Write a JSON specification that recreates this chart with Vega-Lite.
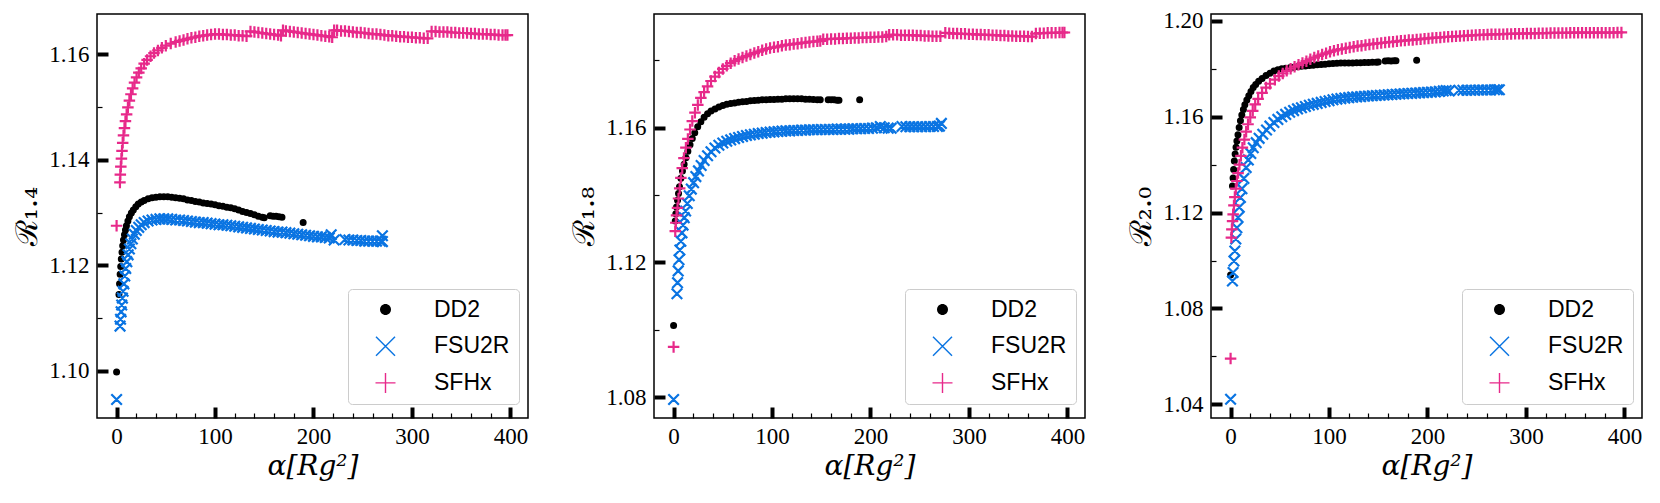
{
  "$schema": "https://vega.github.io/schema/vega-lite/v6.json",
  "padding": {"left": 11, "top": 9, "right": 5, "bottom": 5},
  "spacing": 39,
  "resolve": {"legend": {"color": "independent", "shape": "independent"}},
  "config": {
    "view": {"stroke": "black", "strokeWidth": 1.5},
    "axis": {
      "domain": false, "grid": false,
      "labelFont": "Liberation Serif", "labelFontSize": 23, "labelColor": "black",
      "labelOverlap": false, "labelFlush": false,
      "tickColor": "black",
      "titleFont": "DejaVu Serif", "titleFontWeight": "normal", "titleFontSize": 30, "titleColor": "black"
    },
    "axisX": {"labelPadding": 18, "minExtent": 28, "maxExtent": 28, "titlePadding": 6, "titleFontSize": 28},
    "axisY": {"labelPadding": 19, "minExtent": 48, "maxExtent": 48, "titlePadding": 7},
    "legend": {
      "padding": 9,
      "fillColor": "rgba(255,255,255,0.8)", "strokeColor": "#cccccc", "cornerRadius": 4,
      "symbolSize": 400, "symbolStrokeWidth": 0, "symbolOffset": 17,
      "labelFont": "Liberation Sans", "labelFontSize": 23, "labelColor": "black", "labelOffset": 37,
      "rowPadding": 12.7
    }
  },
  "hconcat": [
    {
      "width": 431, "height": 404,
      "data": {"values": [
        {"eos": "DD2", "alpha": 0, "R": 1.0998},
        {"eos": "DD2", "alpha": 2.4, "R": 1.1145},
        {"eos": "DD2", "alpha": 3, "R": 1.1165},
        {"eos": "DD2", "alpha": 3.6, "R": 1.1183},
        {"eos": "DD2", "alpha": 4.2, "R": 1.1198},
        {"eos": "DD2", "alpha": 4.8, "R": 1.1212},
        {"eos": "DD2", "alpha": 5.5, "R": 1.1225},
        {"eos": "DD2", "alpha": 6.2, "R": 1.1237},
        {"eos": "DD2", "alpha": 7, "R": 1.1248},
        {"eos": "DD2", "alpha": 8, "R": 1.1258},
        {"eos": "DD2", "alpha": 9, "R": 1.1267},
        {"eos": "DD2", "alpha": 10, "R": 1.1275},
        {"eos": "DD2", "alpha": 11.5, "R": 1.1284},
        {"eos": "DD2", "alpha": 13, "R": 1.1292},
        {"eos": "DD2", "alpha": 15, "R": 1.1299},
        {"eos": "DD2", "alpha": 17, "R": 1.1305},
        {"eos": "DD2", "alpha": 19.5, "R": 1.1311},
        {"eos": "DD2", "alpha": 22, "R": 1.1316},
        {"eos": "DD2", "alpha": 25, "R": 1.132},
        {"eos": "DD2", "alpha": 28, "R": 1.1323},
        {"eos": "DD2", "alpha": 32, "R": 1.1326},
        {"eos": "DD2", "alpha": 36, "R": 1.1328},
        {"eos": "DD2", "alpha": 40, "R": 1.1329},
        {"eos": "DD2", "alpha": 44, "R": 1.133},
        {"eos": "DD2", "alpha": 48, "R": 1.133},
        {"eos": "DD2", "alpha": 52, "R": 1.133},
        {"eos": "DD2", "alpha": 56, "R": 1.1329},
        {"eos": "DD2", "alpha": 60, "R": 1.1328},
        {"eos": "DD2", "alpha": 64, "R": 1.1327},
        {"eos": "DD2", "alpha": 68, "R": 1.1326},
        {"eos": "DD2", "alpha": 72, "R": 1.1324},
        {"eos": "DD2", "alpha": 76, "R": 1.1323},
        {"eos": "DD2", "alpha": 80, "R": 1.1321},
        {"eos": "DD2", "alpha": 84, "R": 1.132},
        {"eos": "DD2", "alpha": 88, "R": 1.1318},
        {"eos": "DD2", "alpha": 92, "R": 1.1317},
        {"eos": "DD2", "alpha": 96, "R": 1.1316},
        {"eos": "DD2", "alpha": 100, "R": 1.1315},
        {"eos": "DD2", "alpha": 104, "R": 1.1313},
        {"eos": "DD2", "alpha": 108, "R": 1.1312},
        {"eos": "DD2", "alpha": 112, "R": 1.131},
        {"eos": "DD2", "alpha": 116, "R": 1.1309},
        {"eos": "DD2", "alpha": 120, "R": 1.1307},
        {"eos": "DD2", "alpha": 124, "R": 1.1305},
        {"eos": "DD2", "alpha": 128, "R": 1.1302},
        {"eos": "DD2", "alpha": 132, "R": 1.13},
        {"eos": "DD2", "alpha": 136, "R": 1.1298},
        {"eos": "DD2", "alpha": 140, "R": 1.1296},
        {"eos": "DD2", "alpha": 144, "R": 1.1293},
        {"eos": "DD2", "alpha": 148, "R": 1.1291},
        {"eos": "DD2", "alpha": 150, "R": 1.129},
        {"eos": "DD2", "alpha": 156, "R": 1.1294},
        {"eos": "DD2", "alpha": 159, "R": 1.1293},
        {"eos": "DD2", "alpha": 162, "R": 1.1293},
        {"eos": "DD2", "alpha": 165, "R": 1.1292},
        {"eos": "DD2", "alpha": 168, "R": 1.1291},
        {"eos": "DD2", "alpha": 189.5, "R": 1.1281},
        {"eos": "FSU2R", "alpha": 0, "R": 1.0946},
        {"eos": "FSU2R", "alpha": 3.5, "R": 1.1085},
        {"eos": "FSU2R", "alpha": 4, "R": 1.1098},
        {"eos": "FSU2R", "alpha": 4.6, "R": 1.1112},
        {"eos": "FSU2R", "alpha": 5.2, "R": 1.1125},
        {"eos": "FSU2R", "alpha": 5.9, "R": 1.1138},
        {"eos": "FSU2R", "alpha": 6.6, "R": 1.1151},
        {"eos": "FSU2R", "alpha": 7.4, "R": 1.1165},
        {"eos": "FSU2R", "alpha": 8.3, "R": 1.118},
        {"eos": "FSU2R", "alpha": 9.3, "R": 1.1194},
        {"eos": "FSU2R", "alpha": 10.4, "R": 1.1207},
        {"eos": "FSU2R", "alpha": 11.7, "R": 1.122},
        {"eos": "FSU2R", "alpha": 13, "R": 1.1231},
        {"eos": "FSU2R", "alpha": 14.5, "R": 1.1241},
        {"eos": "FSU2R", "alpha": 16, "R": 1.125},
        {"eos": "FSU2R", "alpha": 18, "R": 1.1259},
        {"eos": "FSU2R", "alpha": 20, "R": 1.1266},
        {"eos": "FSU2R", "alpha": 22.5, "R": 1.1272},
        {"eos": "FSU2R", "alpha": 25, "R": 1.1277},
        {"eos": "FSU2R", "alpha": 28, "R": 1.1281},
        {"eos": "FSU2R", "alpha": 32, "R": 1.1284},
        {"eos": "FSU2R", "alpha": 36, "R": 1.1286},
        {"eos": "FSU2R", "alpha": 40, "R": 1.1287},
        {"eos": "FSU2R", "alpha": 44, "R": 1.1288},
        {"eos": "FSU2R", "alpha": 48, "R": 1.1288},
        {"eos": "FSU2R", "alpha": 52, "R": 1.1288},
        {"eos": "FSU2R", "alpha": 56, "R": 1.1287},
        {"eos": "FSU2R", "alpha": 60, "R": 1.1286},
        {"eos": "FSU2R", "alpha": 64, "R": 1.1286},
        {"eos": "FSU2R", "alpha": 68, "R": 1.1285},
        {"eos": "FSU2R", "alpha": 72, "R": 1.1284},
        {"eos": "FSU2R", "alpha": 76, "R": 1.1283},
        {"eos": "FSU2R", "alpha": 80, "R": 1.1282},
        {"eos": "FSU2R", "alpha": 84, "R": 1.1281},
        {"eos": "FSU2R", "alpha": 88, "R": 1.1281},
        {"eos": "FSU2R", "alpha": 92, "R": 1.128},
        {"eos": "FSU2R", "alpha": 96, "R": 1.1279},
        {"eos": "FSU2R", "alpha": 100, "R": 1.1278},
        {"eos": "FSU2R", "alpha": 104, "R": 1.1277},
        {"eos": "FSU2R", "alpha": 108, "R": 1.1277},
        {"eos": "FSU2R", "alpha": 112, "R": 1.1276},
        {"eos": "FSU2R", "alpha": 116, "R": 1.1275},
        {"eos": "FSU2R", "alpha": 120, "R": 1.1274},
        {"eos": "FSU2R", "alpha": 124, "R": 1.1273},
        {"eos": "FSU2R", "alpha": 128, "R": 1.1272},
        {"eos": "FSU2R", "alpha": 132, "R": 1.1271},
        {"eos": "FSU2R", "alpha": 136, "R": 1.127},
        {"eos": "FSU2R", "alpha": 140, "R": 1.1269},
        {"eos": "FSU2R", "alpha": 144, "R": 1.1268},
        {"eos": "FSU2R", "alpha": 148, "R": 1.1267},
        {"eos": "FSU2R", "alpha": 152, "R": 1.1266},
        {"eos": "FSU2R", "alpha": 156, "R": 1.1265},
        {"eos": "FSU2R", "alpha": 160, "R": 1.1264},
        {"eos": "FSU2R", "alpha": 164, "R": 1.1263},
        {"eos": "FSU2R", "alpha": 168, "R": 1.1263},
        {"eos": "FSU2R", "alpha": 172, "R": 1.1262},
        {"eos": "FSU2R", "alpha": 176, "R": 1.1261},
        {"eos": "FSU2R", "alpha": 180, "R": 1.126},
        {"eos": "FSU2R", "alpha": 184, "R": 1.1259},
        {"eos": "FSU2R", "alpha": 188, "R": 1.1258},
        {"eos": "FSU2R", "alpha": 192, "R": 1.1257},
        {"eos": "FSU2R", "alpha": 196, "R": 1.1256},
        {"eos": "FSU2R", "alpha": 200, "R": 1.1255},
        {"eos": "FSU2R", "alpha": 204, "R": 1.1254},
        {"eos": "FSU2R", "alpha": 208, "R": 1.1254},
        {"eos": "FSU2R", "alpha": 212, "R": 1.1253},
        {"eos": "FSU2R", "alpha": 216, "R": 1.1252},
        {"eos": "FSU2R", "alpha": 218, "R": 1.1258},
        {"eos": "FSU2R", "alpha": 221, "R": 1.1248},
        {"eos": "FSU2R", "alpha": 232, "R": 1.1249},
        {"eos": "FSU2R", "alpha": 236, "R": 1.1248},
        {"eos": "FSU2R", "alpha": 240, "R": 1.1248},
        {"eos": "FSU2R", "alpha": 244, "R": 1.1247},
        {"eos": "FSU2R", "alpha": 248, "R": 1.1247},
        {"eos": "FSU2R", "alpha": 252, "R": 1.1246},
        {"eos": "FSU2R", "alpha": 256, "R": 1.1246},
        {"eos": "FSU2R", "alpha": 260, "R": 1.1246},
        {"eos": "FSU2R", "alpha": 264, "R": 1.1246},
        {"eos": "FSU2R", "alpha": 268, "R": 1.1246},
        {"eos": "FSU2R", "alpha": 270, "R": 1.1256},
        {"eos": "FSU2R", "alpha": 270, "R": 1.1245},
        {"eos": "SFHx", "alpha": 0, "R": 1.1275},
        {"eos": "SFHx", "alpha": 3.4, "R": 1.1357},
        {"eos": "SFHx", "alpha": 3.8, "R": 1.1372},
        {"eos": "SFHx", "alpha": 4.3, "R": 1.1387},
        {"eos": "SFHx", "alpha": 4.9, "R": 1.1402},
        {"eos": "SFHx", "alpha": 5.5, "R": 1.1417},
        {"eos": "SFHx", "alpha": 6.2, "R": 1.1432},
        {"eos": "SFHx", "alpha": 7, "R": 1.1446},
        {"eos": "SFHx", "alpha": 8, "R": 1.146},
        {"eos": "SFHx", "alpha": 9, "R": 1.1473},
        {"eos": "SFHx", "alpha": 10.2, "R": 1.1486},
        {"eos": "SFHx", "alpha": 11.5, "R": 1.1499},
        {"eos": "SFHx", "alpha": 13, "R": 1.1512},
        {"eos": "SFHx", "alpha": 14.6, "R": 1.1524},
        {"eos": "SFHx", "alpha": 16.3, "R": 1.1535},
        {"eos": "SFHx", "alpha": 18.2, "R": 1.1546},
        {"eos": "SFHx", "alpha": 20.3, "R": 1.1556},
        {"eos": "SFHx", "alpha": 22.6, "R": 1.1565},
        {"eos": "SFHx", "alpha": 25, "R": 1.1573},
        {"eos": "SFHx", "alpha": 28, "R": 1.1582},
        {"eos": "SFHx", "alpha": 31, "R": 1.1589},
        {"eos": "SFHx", "alpha": 34.5, "R": 1.1596},
        {"eos": "SFHx", "alpha": 38, "R": 1.1602},
        {"eos": "SFHx", "alpha": 42, "R": 1.1607},
        {"eos": "SFHx", "alpha": 46, "R": 1.1612},
        {"eos": "SFHx", "alpha": 50, "R": 1.1616},
        {"eos": "SFHx", "alpha": 55, "R": 1.162},
        {"eos": "SFHx", "alpha": 60, "R": 1.1623},
        {"eos": "SFHx", "alpha": 64, "R": 1.1625},
        {"eos": "SFHx", "alpha": 68, "R": 1.1627},
        {"eos": "SFHx", "alpha": 72, "R": 1.1629},
        {"eos": "SFHx", "alpha": 76, "R": 1.1631},
        {"eos": "SFHx", "alpha": 80, "R": 1.1632},
        {"eos": "SFHx", "alpha": 84, "R": 1.1634},
        {"eos": "SFHx", "alpha": 88, "R": 1.1635},
        {"eos": "SFHx", "alpha": 92, "R": 1.1636},
        {"eos": "SFHx", "alpha": 96, "R": 1.1637},
        {"eos": "SFHx", "alpha": 100, "R": 1.1638},
        {"eos": "SFHx", "alpha": 104, "R": 1.1638},
        {"eos": "SFHx", "alpha": 108, "R": 1.1637},
        {"eos": "SFHx", "alpha": 112, "R": 1.1637},
        {"eos": "SFHx", "alpha": 116, "R": 1.1636},
        {"eos": "SFHx", "alpha": 120, "R": 1.1636},
        {"eos": "SFHx", "alpha": 124, "R": 1.1635},
        {"eos": "SFHx", "alpha": 128, "R": 1.1635},
        {"eos": "SFHx", "alpha": 132, "R": 1.1634},
        {"eos": "SFHx", "alpha": 136, "R": 1.1643},
        {"eos": "SFHx", "alpha": 140, "R": 1.1642},
        {"eos": "SFHx", "alpha": 144, "R": 1.1641},
        {"eos": "SFHx", "alpha": 148, "R": 1.164},
        {"eos": "SFHx", "alpha": 152, "R": 1.1639},
        {"eos": "SFHx", "alpha": 156, "R": 1.1638},
        {"eos": "SFHx", "alpha": 160, "R": 1.1637},
        {"eos": "SFHx", "alpha": 164, "R": 1.1636},
        {"eos": "SFHx", "alpha": 167, "R": 1.1635},
        {"eos": "SFHx", "alpha": 169, "R": 1.1645},
        {"eos": "SFHx", "alpha": 172, "R": 1.1644},
        {"eos": "SFHx", "alpha": 176, "R": 1.1643},
        {"eos": "SFHx", "alpha": 180, "R": 1.1642},
        {"eos": "SFHx", "alpha": 184, "R": 1.1641},
        {"eos": "SFHx", "alpha": 188, "R": 1.164},
        {"eos": "SFHx", "alpha": 192, "R": 1.1639},
        {"eos": "SFHx", "alpha": 196, "R": 1.1638},
        {"eos": "SFHx", "alpha": 200, "R": 1.1637},
        {"eos": "SFHx", "alpha": 204, "R": 1.1636},
        {"eos": "SFHx", "alpha": 208, "R": 1.1635},
        {"eos": "SFHx", "alpha": 212, "R": 1.1634},
        {"eos": "SFHx", "alpha": 216, "R": 1.1633},
        {"eos": "SFHx", "alpha": 219, "R": 1.1632},
        {"eos": "SFHx", "alpha": 221, "R": 1.1645},
        {"eos": "SFHx", "alpha": 224, "R": 1.1645},
        {"eos": "SFHx", "alpha": 228, "R": 1.1644},
        {"eos": "SFHx", "alpha": 232, "R": 1.1644},
        {"eos": "SFHx", "alpha": 236, "R": 1.1643},
        {"eos": "SFHx", "alpha": 240, "R": 1.1642},
        {"eos": "SFHx", "alpha": 244, "R": 1.1641},
        {"eos": "SFHx", "alpha": 248, "R": 1.1641},
        {"eos": "SFHx", "alpha": 252, "R": 1.164},
        {"eos": "SFHx", "alpha": 256, "R": 1.1639},
        {"eos": "SFHx", "alpha": 260, "R": 1.1638},
        {"eos": "SFHx", "alpha": 264, "R": 1.1638},
        {"eos": "SFHx", "alpha": 268, "R": 1.1637},
        {"eos": "SFHx", "alpha": 272, "R": 1.1636},
        {"eos": "SFHx", "alpha": 276, "R": 1.1635},
        {"eos": "SFHx", "alpha": 280, "R": 1.1635},
        {"eos": "SFHx", "alpha": 284, "R": 1.1634},
        {"eos": "SFHx", "alpha": 288, "R": 1.1633},
        {"eos": "SFHx", "alpha": 292, "R": 1.1633},
        {"eos": "SFHx", "alpha": 296, "R": 1.1632},
        {"eos": "SFHx", "alpha": 300, "R": 1.1632},
        {"eos": "SFHx", "alpha": 304, "R": 1.1631},
        {"eos": "SFHx", "alpha": 308, "R": 1.1631},
        {"eos": "SFHx", "alpha": 312, "R": 1.163},
        {"eos": "SFHx", "alpha": 316, "R": 1.163},
        {"eos": "SFHx", "alpha": 320, "R": 1.1643},
        {"eos": "SFHx", "alpha": 324, "R": 1.1643},
        {"eos": "SFHx", "alpha": 328, "R": 1.1642},
        {"eos": "SFHx", "alpha": 332, "R": 1.1642},
        {"eos": "SFHx", "alpha": 336, "R": 1.1642},
        {"eos": "SFHx", "alpha": 340, "R": 1.1641},
        {"eos": "SFHx", "alpha": 344, "R": 1.1641},
        {"eos": "SFHx", "alpha": 348, "R": 1.164},
        {"eos": "SFHx", "alpha": 352, "R": 1.164},
        {"eos": "SFHx", "alpha": 356, "R": 1.164},
        {"eos": "SFHx", "alpha": 360, "R": 1.1639},
        {"eos": "SFHx", "alpha": 364, "R": 1.1639},
        {"eos": "SFHx", "alpha": 368, "R": 1.1638},
        {"eos": "SFHx", "alpha": 372, "R": 1.1638},
        {"eos": "SFHx", "alpha": 376, "R": 1.1638},
        {"eos": "SFHx", "alpha": 380, "R": 1.1637},
        {"eos": "SFHx", "alpha": 384, "R": 1.1637},
        {"eos": "SFHx", "alpha": 388, "R": 1.1636},
        {"eos": "SFHx", "alpha": 392, "R": 1.1636},
        {"eos": "SFHx", "alpha": 395, "R": 1.1636},
        {"eos": "SFHx", "alpha": 397, "R": 1.1636}
      ]},
      "mark": {"type": "point", "filled": true, "opacity": 1, "size": 100, "strokeWidth": 1.5},
      "encoding": {
        "x": {
          "field": "alpha", "type": "quantitative",
          "scale": {"domain": [-19.9, 417.9], "nice": false, "zero": false},
          "axis": {
            "title": "α[Rg²]", "titleFontStyle": "italic", "format": "d",
            "values": [0, 20, 40, 60, 80, 100, 120, 140, 160, 180, 200, 220, 240, 260, 280, 300, 320, 340, 360, 380, 400],
            "labelExpr": "datum.value % 100 === 0 ? datum.label : ''",
            "tickSize": {"condition": {"test": "datum.value % 100 === 0", "value": -11}, "value": -5},
            "tickWidth": {"condition": {"test": "datum.value % 100 === 0", "value": 4}, "value": 1.2}
          }
        },
        "y": {
          "field": "R", "type": "quantitative",
          "scale": {"domain": [1.0911, 1.1676], "nice": false, "zero": false},
          "axis": {
            "title": "ℛ₁.₄", "format": ".2f",
            "values": [1.10, 1.11, 1.12, 1.13, 1.14, 1.15, 1.16],
            "labelExpr": "round(datum.value * 100) % 2 === 0 ? datum.label : ''",
            "tickSize": {"condition": {"test": "round(datum.value * 100) % 2 === 0", "value": -11}, "value": -5},
            "tickWidth": {"condition": {"test": "round(datum.value * 100) % 2 === 0", "value": 4}, "value": 1.2}
          }
        },
        "color": {
          "field": "eos", "type": "nominal",
          "scale": {"domain": ["DD2", "FSU2R", "SFHx"], "range": ["#000000", "#0a74e2", "#e7298a"]},
          "legend": {"title": null, "orient": "none", "legendX": 251, "legendY": 275}
        },
        "stroke": {
          "field": "eos", "type": "nominal",
          "scale": {"domain": ["DD2", "FSU2R", "SFHx"], "range": ["#000000", "#0a74e2", "#e7298a"]},
          "legend": null
        },
        "shape": {
          "field": "eos", "type": "nominal",
          "scale": {"domain": ["DD2", "FSU2R", "SFHx"], "range": ["M0.55,0A0.55,0.55,0,1,1,-0.55,0A0.55,0.55,0,1,1,0.55,0Z", "M-1,-0.9L-0.9,-1L1,0.9L0.9,1Z M-1,0.9L0.9,-1L1,-0.9L-0.9,1Z", "M-1,-0.07L1,-0.07L1,0.07L-1,0.07Z M-0.07,-1L0.07,-1L0.07,1L-0.07,1Z"]},
          "legend": {"title": null, "orient": "none", "legendX": 251, "legendY": 275}
        }
      }
    },
    {
      "width": 431, "height": 404,
      "data": {"values": [
        {"eos": "DD2", "alpha": 0, "R": 1.1013},
        {"eos": "DD2", "alpha": 1.7, "R": 1.1323},
        {"eos": "DD2", "alpha": 2.3, "R": 1.1345},
        {"eos": "DD2", "alpha": 3, "R": 1.1365},
        {"eos": "DD2", "alpha": 4, "R": 1.1385},
        {"eos": "DD2", "alpha": 5, "R": 1.1405},
        {"eos": "DD2", "alpha": 6, "R": 1.1425},
        {"eos": "DD2", "alpha": 7.4, "R": 1.145},
        {"eos": "DD2", "alpha": 9, "R": 1.1472},
        {"eos": "DD2", "alpha": 10.7, "R": 1.1492},
        {"eos": "DD2", "alpha": 12.5, "R": 1.1511},
        {"eos": "DD2", "alpha": 14.5, "R": 1.153},
        {"eos": "DD2", "alpha": 16.7, "R": 1.155},
        {"eos": "DD2", "alpha": 19, "R": 1.1568},
        {"eos": "DD2", "alpha": 21.5, "R": 1.1585},
        {"eos": "DD2", "alpha": 24.5, "R": 1.1603},
        {"eos": "DD2", "alpha": 27.7, "R": 1.1618},
        {"eos": "DD2", "alpha": 31, "R": 1.1631},
        {"eos": "DD2", "alpha": 34.5, "R": 1.1642},
        {"eos": "DD2", "alpha": 38, "R": 1.165},
        {"eos": "DD2", "alpha": 42, "R": 1.1656},
        {"eos": "DD2", "alpha": 46, "R": 1.1662},
        {"eos": "DD2", "alpha": 50, "R": 1.1666},
        {"eos": "DD2", "alpha": 54, "R": 1.167},
        {"eos": "DD2", "alpha": 58, "R": 1.1672},
        {"eos": "DD2", "alpha": 62, "R": 1.1674},
        {"eos": "DD2", "alpha": 66, "R": 1.1676},
        {"eos": "DD2", "alpha": 70, "R": 1.1677},
        {"eos": "DD2", "alpha": 74, "R": 1.1678},
        {"eos": "DD2", "alpha": 78, "R": 1.168},
        {"eos": "DD2", "alpha": 82, "R": 1.1681},
        {"eos": "DD2", "alpha": 86, "R": 1.1682},
        {"eos": "DD2", "alpha": 90, "R": 1.1683},
        {"eos": "DD2", "alpha": 94, "R": 1.1683},
        {"eos": "DD2", "alpha": 98, "R": 1.1684},
        {"eos": "DD2", "alpha": 102, "R": 1.1684},
        {"eos": "DD2", "alpha": 106, "R": 1.1685},
        {"eos": "DD2", "alpha": 110, "R": 1.1685},
        {"eos": "DD2", "alpha": 114, "R": 1.1686},
        {"eos": "DD2", "alpha": 118, "R": 1.1686},
        {"eos": "DD2", "alpha": 122, "R": 1.1686},
        {"eos": "DD2", "alpha": 126, "R": 1.1686},
        {"eos": "DD2", "alpha": 130, "R": 1.1686},
        {"eos": "DD2", "alpha": 134, "R": 1.1685},
        {"eos": "DD2", "alpha": 138, "R": 1.1685},
        {"eos": "DD2", "alpha": 142, "R": 1.1684},
        {"eos": "DD2", "alpha": 146, "R": 1.1683},
        {"eos": "DD2", "alpha": 149, "R": 1.1683},
        {"eos": "DD2", "alpha": 157, "R": 1.1683},
        {"eos": "DD2", "alpha": 160, "R": 1.1683},
        {"eos": "DD2", "alpha": 163, "R": 1.1683},
        {"eos": "DD2", "alpha": 166, "R": 1.1682},
        {"eos": "DD2", "alpha": 168, "R": 1.1682},
        {"eos": "DD2", "alpha": 189, "R": 1.1683},
        {"eos": "FSU2R", "alpha": 0, "R": 1.0793},
        {"eos": "FSU2R", "alpha": 3.4, "R": 1.1107},
        {"eos": "FSU2R", "alpha": 4, "R": 1.114},
        {"eos": "FSU2R", "alpha": 4.7, "R": 1.1175},
        {"eos": "FSU2R", "alpha": 5.5, "R": 1.1208},
        {"eos": "FSU2R", "alpha": 6.4, "R": 1.1237},
        {"eos": "FSU2R", "alpha": 7.4, "R": 1.1263},
        {"eos": "FSU2R", "alpha": 8.5, "R": 1.1288},
        {"eos": "FSU2R", "alpha": 9.6, "R": 1.1311},
        {"eos": "FSU2R", "alpha": 10.8, "R": 1.1333},
        {"eos": "FSU2R", "alpha": 12.2, "R": 1.1353},
        {"eos": "FSU2R", "alpha": 13.9, "R": 1.1375},
        {"eos": "FSU2R", "alpha": 15.9, "R": 1.1398},
        {"eos": "FSU2R", "alpha": 18, "R": 1.1418},
        {"eos": "FSU2R", "alpha": 20.3, "R": 1.1437},
        {"eos": "FSU2R", "alpha": 22.6, "R": 1.1455},
        {"eos": "FSU2R", "alpha": 25.3, "R": 1.1472},
        {"eos": "FSU2R", "alpha": 28, "R": 1.1488},
        {"eos": "FSU2R", "alpha": 31, "R": 1.1503},
        {"eos": "FSU2R", "alpha": 34.5, "R": 1.1517},
        {"eos": "FSU2R", "alpha": 38, "R": 1.1529},
        {"eos": "FSU2R", "alpha": 42, "R": 1.154},
        {"eos": "FSU2R", "alpha": 46, "R": 1.1548},
        {"eos": "FSU2R", "alpha": 50, "R": 1.1555},
        {"eos": "FSU2R", "alpha": 54, "R": 1.156},
        {"eos": "FSU2R", "alpha": 58, "R": 1.1564},
        {"eos": "FSU2R", "alpha": 62, "R": 1.1568},
        {"eos": "FSU2R", "alpha": 66, "R": 1.1571},
        {"eos": "FSU2R", "alpha": 70, "R": 1.1574},
        {"eos": "FSU2R", "alpha": 74, "R": 1.1577},
        {"eos": "FSU2R", "alpha": 78, "R": 1.1579},
        {"eos": "FSU2R", "alpha": 82, "R": 1.1581},
        {"eos": "FSU2R", "alpha": 86, "R": 1.1583},
        {"eos": "FSU2R", "alpha": 90, "R": 1.1584},
        {"eos": "FSU2R", "alpha": 94, "R": 1.1586},
        {"eos": "FSU2R", "alpha": 98, "R": 1.1587},
        {"eos": "FSU2R", "alpha": 102, "R": 1.1588},
        {"eos": "FSU2R", "alpha": 106, "R": 1.1589},
        {"eos": "FSU2R", "alpha": 110, "R": 1.159},
        {"eos": "FSU2R", "alpha": 114, "R": 1.1591},
        {"eos": "FSU2R", "alpha": 118, "R": 1.1591},
        {"eos": "FSU2R", "alpha": 122, "R": 1.1592},
        {"eos": "FSU2R", "alpha": 126, "R": 1.1592},
        {"eos": "FSU2R", "alpha": 130, "R": 1.1593},
        {"eos": "FSU2R", "alpha": 134, "R": 1.1593},
        {"eos": "FSU2R", "alpha": 138, "R": 1.1594},
        {"eos": "FSU2R", "alpha": 142, "R": 1.1594},
        {"eos": "FSU2R", "alpha": 146, "R": 1.1594},
        {"eos": "FSU2R", "alpha": 150, "R": 1.1595},
        {"eos": "FSU2R", "alpha": 154, "R": 1.1595},
        {"eos": "FSU2R", "alpha": 158, "R": 1.1595},
        {"eos": "FSU2R", "alpha": 162, "R": 1.1595},
        {"eos": "FSU2R", "alpha": 166, "R": 1.1596},
        {"eos": "FSU2R", "alpha": 170, "R": 1.1596},
        {"eos": "FSU2R", "alpha": 174, "R": 1.1596},
        {"eos": "FSU2R", "alpha": 178, "R": 1.1596},
        {"eos": "FSU2R", "alpha": 182, "R": 1.1597},
        {"eos": "FSU2R", "alpha": 186, "R": 1.1597},
        {"eos": "FSU2R", "alpha": 190, "R": 1.1597},
        {"eos": "FSU2R", "alpha": 194, "R": 1.1598},
        {"eos": "FSU2R", "alpha": 198, "R": 1.1598},
        {"eos": "FSU2R", "alpha": 202, "R": 1.1599},
        {"eos": "FSU2R", "alpha": 206, "R": 1.16},
        {"eos": "FSU2R", "alpha": 210, "R": 1.1604},
        {"eos": "FSU2R", "alpha": 214, "R": 1.16},
        {"eos": "FSU2R", "alpha": 218, "R": 1.1599},
        {"eos": "FSU2R", "alpha": 221, "R": 1.1599},
        {"eos": "FSU2R", "alpha": 232, "R": 1.1604},
        {"eos": "FSU2R", "alpha": 236, "R": 1.1603},
        {"eos": "FSU2R", "alpha": 240, "R": 1.1603},
        {"eos": "FSU2R", "alpha": 244, "R": 1.1603},
        {"eos": "FSU2R", "alpha": 248, "R": 1.1603},
        {"eos": "FSU2R", "alpha": 252, "R": 1.1603},
        {"eos": "FSU2R", "alpha": 256, "R": 1.1603},
        {"eos": "FSU2R", "alpha": 260, "R": 1.1604},
        {"eos": "FSU2R", "alpha": 264, "R": 1.1604},
        {"eos": "FSU2R", "alpha": 268, "R": 1.1604},
        {"eos": "FSU2R", "alpha": 270, "R": 1.1605},
        {"eos": "FSU2R", "alpha": 272, "R": 1.1613},
        {"eos": "SFHx", "alpha": 0, "R": 1.0949},
        {"eos": "SFHx", "alpha": 1.7, "R": 1.1293},
        {"eos": "SFHx", "alpha": 2.3, "R": 1.1318},
        {"eos": "SFHx", "alpha": 3, "R": 1.134},
        {"eos": "SFHx", "alpha": 4, "R": 1.1362},
        {"eos": "SFHx", "alpha": 5, "R": 1.139},
        {"eos": "SFHx", "alpha": 6.2, "R": 1.142},
        {"eos": "SFHx", "alpha": 7.4, "R": 1.1451},
        {"eos": "SFHx", "alpha": 8.8, "R": 1.148},
        {"eos": "SFHx", "alpha": 10.5, "R": 1.151},
        {"eos": "SFHx", "alpha": 12.5, "R": 1.1541},
        {"eos": "SFHx", "alpha": 14.5, "R": 1.1567},
        {"eos": "SFHx", "alpha": 16.7, "R": 1.1595},
        {"eos": "SFHx", "alpha": 19, "R": 1.162},
        {"eos": "SFHx", "alpha": 21.7, "R": 1.1645},
        {"eos": "SFHx", "alpha": 24.6, "R": 1.1668},
        {"eos": "SFHx", "alpha": 27.7, "R": 1.1689},
        {"eos": "SFHx", "alpha": 31, "R": 1.1706},
        {"eos": "SFHx", "alpha": 34.5, "R": 1.1723},
        {"eos": "SFHx", "alpha": 38, "R": 1.1739},
        {"eos": "SFHx", "alpha": 42, "R": 1.1752},
        {"eos": "SFHx", "alpha": 46, "R": 1.1764},
        {"eos": "SFHx", "alpha": 50, "R": 1.1775},
        {"eos": "SFHx", "alpha": 54, "R": 1.1784},
        {"eos": "SFHx", "alpha": 58, "R": 1.1792},
        {"eos": "SFHx", "alpha": 62, "R": 1.1799},
        {"eos": "SFHx", "alpha": 66, "R": 1.1804},
        {"eos": "SFHx", "alpha": 70, "R": 1.1809},
        {"eos": "SFHx", "alpha": 74, "R": 1.1813},
        {"eos": "SFHx", "alpha": 78, "R": 1.1818},
        {"eos": "SFHx", "alpha": 82, "R": 1.1822},
        {"eos": "SFHx", "alpha": 86, "R": 1.1826},
        {"eos": "SFHx", "alpha": 90, "R": 1.183},
        {"eos": "SFHx", "alpha": 94, "R": 1.1834},
        {"eos": "SFHx", "alpha": 98, "R": 1.1837},
        {"eos": "SFHx", "alpha": 102, "R": 1.1839},
        {"eos": "SFHx", "alpha": 106, "R": 1.1841},
        {"eos": "SFHx", "alpha": 110, "R": 1.1844},
        {"eos": "SFHx", "alpha": 114, "R": 1.1846},
        {"eos": "SFHx", "alpha": 118, "R": 1.1847},
        {"eos": "SFHx", "alpha": 122, "R": 1.1849},
        {"eos": "SFHx", "alpha": 126, "R": 1.185},
        {"eos": "SFHx", "alpha": 130, "R": 1.1852},
        {"eos": "SFHx", "alpha": 134, "R": 1.1853},
        {"eos": "SFHx", "alpha": 138, "R": 1.1855},
        {"eos": "SFHx", "alpha": 142, "R": 1.1856},
        {"eos": "SFHx", "alpha": 146, "R": 1.1857},
        {"eos": "SFHx", "alpha": 149, "R": 1.1858},
        {"eos": "SFHx", "alpha": 152, "R": 1.1863},
        {"eos": "SFHx", "alpha": 156, "R": 1.1863},
        {"eos": "SFHx", "alpha": 160, "R": 1.1864},
        {"eos": "SFHx", "alpha": 164, "R": 1.1864},
        {"eos": "SFHx", "alpha": 168, "R": 1.1865},
        {"eos": "SFHx", "alpha": 172, "R": 1.1865},
        {"eos": "SFHx", "alpha": 176, "R": 1.1866},
        {"eos": "SFHx", "alpha": 180, "R": 1.1866},
        {"eos": "SFHx", "alpha": 184, "R": 1.1867},
        {"eos": "SFHx", "alpha": 188, "R": 1.1867},
        {"eos": "SFHx", "alpha": 192, "R": 1.1868},
        {"eos": "SFHx", "alpha": 196, "R": 1.1868},
        {"eos": "SFHx", "alpha": 200, "R": 1.1869},
        {"eos": "SFHx", "alpha": 204, "R": 1.1869},
        {"eos": "SFHx", "alpha": 208, "R": 1.187},
        {"eos": "SFHx", "alpha": 212, "R": 1.187},
        {"eos": "SFHx", "alpha": 216, "R": 1.1871},
        {"eos": "SFHx", "alpha": 219, "R": 1.1876},
        {"eos": "SFHx", "alpha": 223, "R": 1.1876},
        {"eos": "SFHx", "alpha": 227, "R": 1.1876},
        {"eos": "SFHx", "alpha": 231, "R": 1.1875},
        {"eos": "SFHx", "alpha": 235, "R": 1.1875},
        {"eos": "SFHx", "alpha": 239, "R": 1.1875},
        {"eos": "SFHx", "alpha": 243, "R": 1.1875},
        {"eos": "SFHx", "alpha": 247, "R": 1.1874},
        {"eos": "SFHx", "alpha": 251, "R": 1.1874},
        {"eos": "SFHx", "alpha": 255, "R": 1.1873},
        {"eos": "SFHx", "alpha": 259, "R": 1.1873},
        {"eos": "SFHx", "alpha": 263, "R": 1.1872},
        {"eos": "SFHx", "alpha": 267, "R": 1.1872},
        {"eos": "SFHx", "alpha": 271, "R": 1.1872},
        {"eos": "SFHx", "alpha": 276, "R": 1.1882},
        {"eos": "SFHx", "alpha": 280, "R": 1.1881},
        {"eos": "SFHx", "alpha": 284, "R": 1.188},
        {"eos": "SFHx", "alpha": 288, "R": 1.188},
        {"eos": "SFHx", "alpha": 292, "R": 1.1879},
        {"eos": "SFHx", "alpha": 296, "R": 1.1879},
        {"eos": "SFHx", "alpha": 300, "R": 1.1878},
        {"eos": "SFHx", "alpha": 304, "R": 1.1878},
        {"eos": "SFHx", "alpha": 308, "R": 1.1877},
        {"eos": "SFHx", "alpha": 312, "R": 1.1877},
        {"eos": "SFHx", "alpha": 316, "R": 1.1876},
        {"eos": "SFHx", "alpha": 320, "R": 1.1876},
        {"eos": "SFHx", "alpha": 324, "R": 1.1875},
        {"eos": "SFHx", "alpha": 328, "R": 1.1875},
        {"eos": "SFHx", "alpha": 332, "R": 1.1874},
        {"eos": "SFHx", "alpha": 336, "R": 1.1874},
        {"eos": "SFHx", "alpha": 340, "R": 1.1873},
        {"eos": "SFHx", "alpha": 344, "R": 1.1873},
        {"eos": "SFHx", "alpha": 348, "R": 1.1872},
        {"eos": "SFHx", "alpha": 352, "R": 1.1872},
        {"eos": "SFHx", "alpha": 356, "R": 1.1872},
        {"eos": "SFHx", "alpha": 360, "R": 1.1871},
        {"eos": "SFHx", "alpha": 364, "R": 1.1871},
        {"eos": "SFHx", "alpha": 368, "R": 1.188},
        {"eos": "SFHx", "alpha": 372, "R": 1.1881},
        {"eos": "SFHx", "alpha": 376, "R": 1.1881},
        {"eos": "SFHx", "alpha": 380, "R": 1.1882},
        {"eos": "SFHx", "alpha": 384, "R": 1.1882},
        {"eos": "SFHx", "alpha": 388, "R": 1.1882},
        {"eos": "SFHx", "alpha": 392, "R": 1.1883},
        {"eos": "SFHx", "alpha": 395, "R": 1.1883},
        {"eos": "SFHx", "alpha": 397, "R": 1.1883}
      ]},
      "mark": {"type": "point", "filled": true, "opacity": 1, "size": 100, "strokeWidth": 1.5},
      "encoding": {
        "x": {
          "field": "alpha", "type": "quantitative",
          "scale": {"domain": [-19.9, 417.9], "nice": false, "zero": false},
          "axis": {
            "title": "α[Rg²]", "titleFontStyle": "italic", "format": "d",
            "values": [0, 20, 40, 60, 80, 100, 120, 140, 160, 180, 200, 220, 240, 260, 280, 300, 320, 340, 360, 380, 400],
            "labelExpr": "datum.value % 100 === 0 ? datum.label : ''",
            "tickSize": {"condition": {"test": "datum.value % 100 === 0", "value": -11}, "value": -5},
            "tickWidth": {"condition": {"test": "datum.value % 100 === 0", "value": 4}, "value": 1.2}
          }
        },
        "y": {
          "field": "R", "type": "quantitative",
          "scale": {"domain": [1.0738, 1.1938], "nice": false, "zero": false},
          "axis": {
            "title": "ℛ₁.₈", "format": ".2f",
            "values": [1.08, 1.10, 1.12, 1.14, 1.16, 1.18],
            "labelExpr": "round(datum.value * 100) % 4 === 0 ? datum.label : ''",
            "tickSize": {"condition": {"test": "round(datum.value * 100) % 4 === 0", "value": -11}, "value": -5},
            "tickWidth": {"condition": {"test": "round(datum.value * 100) % 4 === 0", "value": 4}, "value": 1.2}
          }
        },
        "color": {
          "field": "eos", "type": "nominal",
          "scale": {"domain": ["DD2", "FSU2R", "SFHx"], "range": ["#000000", "#0a74e2", "#e7298a"]},
          "legend": {"title": null, "orient": "none", "legendX": 251, "legendY": 275}
        },
        "stroke": {
          "field": "eos", "type": "nominal",
          "scale": {"domain": ["DD2", "FSU2R", "SFHx"], "range": ["#000000", "#0a74e2", "#e7298a"]},
          "legend": null
        },
        "shape": {
          "field": "eos", "type": "nominal",
          "scale": {"domain": ["DD2", "FSU2R", "SFHx"], "range": ["M0.55,0A0.55,0.55,0,1,1,-0.55,0A0.55,0.55,0,1,1,0.55,0Z", "M-1,-0.9L-0.9,-1L1,0.9L0.9,1Z M-1,0.9L0.9,-1L1,-0.9L-0.9,1Z", "M-1,-0.07L1,-0.07L1,0.07L-1,0.07Z M-0.07,-1L0.07,-1L0.07,1L-0.07,1Z"]},
          "legend": {"title": null, "orient": "none", "legendX": 251, "legendY": 275}
        }
      }
    },
    {
      "width": 431, "height": 404,
      "data": {"values": [
        {"eos": "DD2", "alpha": 0, "R": 1.094},
        {"eos": "DD2", "alpha": 1.9, "R": 1.1311},
        {"eos": "DD2", "alpha": 2.5, "R": 1.1345},
        {"eos": "DD2", "alpha": 3.1, "R": 1.138},
        {"eos": "DD2", "alpha": 3.8, "R": 1.1416},
        {"eos": "DD2", "alpha": 4.6, "R": 1.1445},
        {"eos": "DD2", "alpha": 5.5, "R": 1.1473},
        {"eos": "DD2", "alpha": 6.4, "R": 1.1499},
        {"eos": "DD2", "alpha": 7.5, "R": 1.1525},
        {"eos": "DD2", "alpha": 8.7, "R": 1.1555},
        {"eos": "DD2", "alpha": 10, "R": 1.1583},
        {"eos": "DD2", "alpha": 11.4, "R": 1.1608},
        {"eos": "DD2", "alpha": 13, "R": 1.163},
        {"eos": "DD2", "alpha": 14.5, "R": 1.165},
        {"eos": "DD2", "alpha": 16.5, "R": 1.167},
        {"eos": "DD2", "alpha": 18.5, "R": 1.1688},
        {"eos": "DD2", "alpha": 20.7, "R": 1.1706},
        {"eos": "DD2", "alpha": 23, "R": 1.1722},
        {"eos": "DD2", "alpha": 25.5, "R": 1.1735},
        {"eos": "DD2", "alpha": 28.5, "R": 1.1748},
        {"eos": "DD2", "alpha": 32, "R": 1.176},
        {"eos": "DD2", "alpha": 36, "R": 1.1772},
        {"eos": "DD2", "alpha": 40, "R": 1.1782},
        {"eos": "DD2", "alpha": 44, "R": 1.1791},
        {"eos": "DD2", "alpha": 48, "R": 1.1796},
        {"eos": "DD2", "alpha": 52, "R": 1.18},
        {"eos": "DD2", "alpha": 56, "R": 1.1803},
        {"eos": "DD2", "alpha": 60, "R": 1.1805},
        {"eos": "DD2", "alpha": 64, "R": 1.1807},
        {"eos": "DD2", "alpha": 68, "R": 1.1809},
        {"eos": "DD2", "alpha": 72, "R": 1.1811},
        {"eos": "DD2", "alpha": 76, "R": 1.1812},
        {"eos": "DD2", "alpha": 80, "R": 1.1814},
        {"eos": "DD2", "alpha": 84, "R": 1.1815},
        {"eos": "DD2", "alpha": 88, "R": 1.1817},
        {"eos": "DD2", "alpha": 92, "R": 1.1818},
        {"eos": "DD2", "alpha": 96, "R": 1.1819},
        {"eos": "DD2", "alpha": 100, "R": 1.1821},
        {"eos": "DD2", "alpha": 104, "R": 1.1822},
        {"eos": "DD2", "alpha": 108, "R": 1.1823},
        {"eos": "DD2", "alpha": 112, "R": 1.1824},
        {"eos": "DD2", "alpha": 116, "R": 1.1824},
        {"eos": "DD2", "alpha": 120, "R": 1.1825},
        {"eos": "DD2", "alpha": 124, "R": 1.1825},
        {"eos": "DD2", "alpha": 128, "R": 1.1826},
        {"eos": "DD2", "alpha": 132, "R": 1.1826},
        {"eos": "DD2", "alpha": 136, "R": 1.1827},
        {"eos": "DD2", "alpha": 140, "R": 1.1827},
        {"eos": "DD2", "alpha": 144, "R": 1.1828},
        {"eos": "DD2", "alpha": 148, "R": 1.1828},
        {"eos": "DD2", "alpha": 150, "R": 1.1829},
        {"eos": "DD2", "alpha": 157, "R": 1.1833},
        {"eos": "DD2", "alpha": 160, "R": 1.1834},
        {"eos": "DD2", "alpha": 163, "R": 1.1833},
        {"eos": "DD2", "alpha": 166, "R": 1.1834},
        {"eos": "DD2", "alpha": 168, "R": 1.1834},
        {"eos": "DD2", "alpha": 189, "R": 1.1836},
        {"eos": "FSU2R", "alpha": 0, "R": 1.0421},
        {"eos": "FSU2R", "alpha": 1.9, "R": 1.0915},
        {"eos": "FSU2R", "alpha": 2.5, "R": 1.095},
        {"eos": "FSU2R", "alpha": 3.4, "R": 1.0998},
        {"eos": "FSU2R", "alpha": 4.3, "R": 1.104},
        {"eos": "FSU2R", "alpha": 5.3, "R": 1.109},
        {"eos": "FSU2R", "alpha": 6.4, "R": 1.1137},
        {"eos": "FSU2R", "alpha": 7.6, "R": 1.118},
        {"eos": "FSU2R", "alpha": 8.8, "R": 1.1222},
        {"eos": "FSU2R", "alpha": 10, "R": 1.1263},
        {"eos": "FSU2R", "alpha": 11.5, "R": 1.13},
        {"eos": "FSU2R", "alpha": 13.5, "R": 1.1343},
        {"eos": "FSU2R", "alpha": 15.8, "R": 1.1388},
        {"eos": "FSU2R", "alpha": 18, "R": 1.142},
        {"eos": "FSU2R", "alpha": 20.5, "R": 1.1447},
        {"eos": "FSU2R", "alpha": 23, "R": 1.1471},
        {"eos": "FSU2R", "alpha": 26, "R": 1.1492},
        {"eos": "FSU2R", "alpha": 29, "R": 1.151},
        {"eos": "FSU2R", "alpha": 32.7, "R": 1.1527},
        {"eos": "FSU2R", "alpha": 36.5, "R": 1.1545},
        {"eos": "FSU2R", "alpha": 40, "R": 1.1561},
        {"eos": "FSU2R", "alpha": 44, "R": 1.1576},
        {"eos": "FSU2R", "alpha": 48, "R": 1.1589},
        {"eos": "FSU2R", "alpha": 52, "R": 1.16},
        {"eos": "FSU2R", "alpha": 56, "R": 1.161},
        {"eos": "FSU2R", "alpha": 60, "R": 1.1619},
        {"eos": "FSU2R", "alpha": 64, "R": 1.1626},
        {"eos": "FSU2R", "alpha": 68, "R": 1.1633},
        {"eos": "FSU2R", "alpha": 72, "R": 1.1638},
        {"eos": "FSU2R", "alpha": 76, "R": 1.1643},
        {"eos": "FSU2R", "alpha": 80, "R": 1.1648},
        {"eos": "FSU2R", "alpha": 84, "R": 1.1652},
        {"eos": "FSU2R", "alpha": 88, "R": 1.1656},
        {"eos": "FSU2R", "alpha": 92, "R": 1.166},
        {"eos": "FSU2R", "alpha": 96, "R": 1.1664},
        {"eos": "FSU2R", "alpha": 100, "R": 1.1667},
        {"eos": "FSU2R", "alpha": 104, "R": 1.1671},
        {"eos": "FSU2R", "alpha": 108, "R": 1.1674},
        {"eos": "FSU2R", "alpha": 112, "R": 1.1676},
        {"eos": "FSU2R", "alpha": 116, "R": 1.1678},
        {"eos": "FSU2R", "alpha": 120, "R": 1.168},
        {"eos": "FSU2R", "alpha": 124, "R": 1.1682},
        {"eos": "FSU2R", "alpha": 128, "R": 1.1683},
        {"eos": "FSU2R", "alpha": 132, "R": 1.1684},
        {"eos": "FSU2R", "alpha": 136, "R": 1.1686},
        {"eos": "FSU2R", "alpha": 140, "R": 1.1687},
        {"eos": "FSU2R", "alpha": 144, "R": 1.1688},
        {"eos": "FSU2R", "alpha": 148, "R": 1.1689},
        {"eos": "FSU2R", "alpha": 152, "R": 1.169},
        {"eos": "FSU2R", "alpha": 156, "R": 1.1691},
        {"eos": "FSU2R", "alpha": 160, "R": 1.1692},
        {"eos": "FSU2R", "alpha": 164, "R": 1.1693},
        {"eos": "FSU2R", "alpha": 168, "R": 1.1694},
        {"eos": "FSU2R", "alpha": 172, "R": 1.1695},
        {"eos": "FSU2R", "alpha": 176, "R": 1.1696},
        {"eos": "FSU2R", "alpha": 180, "R": 1.1697},
        {"eos": "FSU2R", "alpha": 184, "R": 1.1698},
        {"eos": "FSU2R", "alpha": 188, "R": 1.1699},
        {"eos": "FSU2R", "alpha": 192, "R": 1.17},
        {"eos": "FSU2R", "alpha": 196, "R": 1.1701},
        {"eos": "FSU2R", "alpha": 200, "R": 1.1702},
        {"eos": "FSU2R", "alpha": 204, "R": 1.1703},
        {"eos": "FSU2R", "alpha": 208, "R": 1.1704},
        {"eos": "FSU2R", "alpha": 212, "R": 1.1706},
        {"eos": "FSU2R", "alpha": 216, "R": 1.1708},
        {"eos": "FSU2R", "alpha": 219, "R": 1.171},
        {"eos": "FSU2R", "alpha": 222, "R": 1.1708},
        {"eos": "FSU2R", "alpha": 232, "R": 1.1711},
        {"eos": "FSU2R", "alpha": 236, "R": 1.1711},
        {"eos": "FSU2R", "alpha": 240, "R": 1.1711},
        {"eos": "FSU2R", "alpha": 244, "R": 1.1711},
        {"eos": "FSU2R", "alpha": 248, "R": 1.1711},
        {"eos": "FSU2R", "alpha": 252, "R": 1.1712},
        {"eos": "FSU2R", "alpha": 256, "R": 1.1712},
        {"eos": "FSU2R", "alpha": 260, "R": 1.1712},
        {"eos": "FSU2R", "alpha": 264, "R": 1.1712},
        {"eos": "FSU2R", "alpha": 268, "R": 1.1713},
        {"eos": "FSU2R", "alpha": 271, "R": 1.1713},
        {"eos": "FSU2R", "alpha": 273, "R": 1.1713},
        {"eos": "SFHx", "alpha": 0, "R": 1.0591},
        {"eos": "SFHx", "alpha": 0.8, "R": 1.1096},
        {"eos": "SFHx", "alpha": 1.3, "R": 1.113},
        {"eos": "SFHx", "alpha": 2, "R": 1.1165},
        {"eos": "SFHx", "alpha": 2.6, "R": 1.1193},
        {"eos": "SFHx", "alpha": 3.4, "R": 1.123},
        {"eos": "SFHx", "alpha": 4.3, "R": 1.1265},
        {"eos": "SFHx", "alpha": 5.3, "R": 1.13},
        {"eos": "SFHx", "alpha": 6.4, "R": 1.1332},
        {"eos": "SFHx", "alpha": 7.6, "R": 1.1365},
        {"eos": "SFHx", "alpha": 9, "R": 1.14},
        {"eos": "SFHx", "alpha": 10.5, "R": 1.1437},
        {"eos": "SFHx", "alpha": 12, "R": 1.1471},
        {"eos": "SFHx", "alpha": 14, "R": 1.1505},
        {"eos": "SFHx", "alpha": 15.8, "R": 1.1538},
        {"eos": "SFHx", "alpha": 17.7, "R": 1.1569},
        {"eos": "SFHx", "alpha": 20, "R": 1.1598},
        {"eos": "SFHx", "alpha": 22.5, "R": 1.1625},
        {"eos": "SFHx", "alpha": 25, "R": 1.1652},
        {"eos": "SFHx", "alpha": 28, "R": 1.1675},
        {"eos": "SFHx", "alpha": 32, "R": 1.17},
        {"eos": "SFHx", "alpha": 36, "R": 1.1722},
        {"eos": "SFHx", "alpha": 40, "R": 1.1738},
        {"eos": "SFHx", "alpha": 45, "R": 1.1755},
        {"eos": "SFHx", "alpha": 49, "R": 1.177},
        {"eos": "SFHx", "alpha": 53, "R": 1.1781},
        {"eos": "SFHx", "alpha": 57, "R": 1.1792},
        {"eos": "SFHx", "alpha": 61, "R": 1.1801},
        {"eos": "SFHx", "alpha": 65, "R": 1.1809},
        {"eos": "SFHx", "alpha": 69, "R": 1.1817},
        {"eos": "SFHx", "alpha": 73, "R": 1.1825},
        {"eos": "SFHx", "alpha": 77, "R": 1.1832},
        {"eos": "SFHx", "alpha": 81, "R": 1.184},
        {"eos": "SFHx", "alpha": 85, "R": 1.1847},
        {"eos": "SFHx", "alpha": 89, "R": 1.1854},
        {"eos": "SFHx", "alpha": 93, "R": 1.186},
        {"eos": "SFHx", "alpha": 97, "R": 1.1865},
        {"eos": "SFHx", "alpha": 101, "R": 1.1871},
        {"eos": "SFHx", "alpha": 105, "R": 1.1876},
        {"eos": "SFHx", "alpha": 109, "R": 1.188},
        {"eos": "SFHx", "alpha": 113, "R": 1.1883},
        {"eos": "SFHx", "alpha": 117, "R": 1.1886},
        {"eos": "SFHx", "alpha": 121, "R": 1.1889},
        {"eos": "SFHx", "alpha": 125, "R": 1.1892},
        {"eos": "SFHx", "alpha": 129, "R": 1.1895},
        {"eos": "SFHx", "alpha": 133, "R": 1.1897},
        {"eos": "SFHx", "alpha": 137, "R": 1.19},
        {"eos": "SFHx", "alpha": 141, "R": 1.1902},
        {"eos": "SFHx", "alpha": 145, "R": 1.1904},
        {"eos": "SFHx", "alpha": 149, "R": 1.1906},
        {"eos": "SFHx", "alpha": 153, "R": 1.1908},
        {"eos": "SFHx", "alpha": 157, "R": 1.191},
        {"eos": "SFHx", "alpha": 161, "R": 1.1912},
        {"eos": "SFHx", "alpha": 165, "R": 1.1913},
        {"eos": "SFHx", "alpha": 169, "R": 1.1915},
        {"eos": "SFHx", "alpha": 173, "R": 1.1917},
        {"eos": "SFHx", "alpha": 177, "R": 1.1918},
        {"eos": "SFHx", "alpha": 181, "R": 1.192},
        {"eos": "SFHx", "alpha": 185, "R": 1.1921},
        {"eos": "SFHx", "alpha": 189, "R": 1.1923},
        {"eos": "SFHx", "alpha": 193, "R": 1.1924},
        {"eos": "SFHx", "alpha": 197, "R": 1.1926},
        {"eos": "SFHx", "alpha": 201, "R": 1.1927},
        {"eos": "SFHx", "alpha": 205, "R": 1.1929},
        {"eos": "SFHx", "alpha": 209, "R": 1.193},
        {"eos": "SFHx", "alpha": 213, "R": 1.1931},
        {"eos": "SFHx", "alpha": 217, "R": 1.1933},
        {"eos": "SFHx", "alpha": 221, "R": 1.1934},
        {"eos": "SFHx", "alpha": 225, "R": 1.1935},
        {"eos": "SFHx", "alpha": 229, "R": 1.1936},
        {"eos": "SFHx", "alpha": 233, "R": 1.1937},
        {"eos": "SFHx", "alpha": 237, "R": 1.1938},
        {"eos": "SFHx", "alpha": 241, "R": 1.1939},
        {"eos": "SFHx", "alpha": 245, "R": 1.194},
        {"eos": "SFHx", "alpha": 249, "R": 1.1941},
        {"eos": "SFHx", "alpha": 253, "R": 1.1942},
        {"eos": "SFHx", "alpha": 257, "R": 1.1942},
        {"eos": "SFHx", "alpha": 261, "R": 1.1943},
        {"eos": "SFHx", "alpha": 265, "R": 1.1944},
        {"eos": "SFHx", "alpha": 269, "R": 1.1944},
        {"eos": "SFHx", "alpha": 273, "R": 1.1945},
        {"eos": "SFHx", "alpha": 277, "R": 1.1945},
        {"eos": "SFHx", "alpha": 281, "R": 1.1946},
        {"eos": "SFHx", "alpha": 285, "R": 1.1946},
        {"eos": "SFHx", "alpha": 289, "R": 1.1947},
        {"eos": "SFHx", "alpha": 293, "R": 1.1947},
        {"eos": "SFHx", "alpha": 297, "R": 1.1947},
        {"eos": "SFHx", "alpha": 301, "R": 1.1948},
        {"eos": "SFHx", "alpha": 305, "R": 1.1948},
        {"eos": "SFHx", "alpha": 309, "R": 1.1948},
        {"eos": "SFHx", "alpha": 313, "R": 1.1949},
        {"eos": "SFHx", "alpha": 317, "R": 1.1949},
        {"eos": "SFHx", "alpha": 321, "R": 1.1949},
        {"eos": "SFHx", "alpha": 325, "R": 1.195},
        {"eos": "SFHx", "alpha": 329, "R": 1.195},
        {"eos": "SFHx", "alpha": 333, "R": 1.195},
        {"eos": "SFHx", "alpha": 337, "R": 1.195},
        {"eos": "SFHx", "alpha": 341, "R": 1.195},
        {"eos": "SFHx", "alpha": 345, "R": 1.1951},
        {"eos": "SFHx", "alpha": 349, "R": 1.1951},
        {"eos": "SFHx", "alpha": 353, "R": 1.1951},
        {"eos": "SFHx", "alpha": 357, "R": 1.1951},
        {"eos": "SFHx", "alpha": 361, "R": 1.1951},
        {"eos": "SFHx", "alpha": 365, "R": 1.1951},
        {"eos": "SFHx", "alpha": 369, "R": 1.1951},
        {"eos": "SFHx", "alpha": 373, "R": 1.1951},
        {"eos": "SFHx", "alpha": 377, "R": 1.1951},
        {"eos": "SFHx", "alpha": 381, "R": 1.1951},
        {"eos": "SFHx", "alpha": 385, "R": 1.1951},
        {"eos": "SFHx", "alpha": 389, "R": 1.1951},
        {"eos": "SFHx", "alpha": 393, "R": 1.1952},
        {"eos": "SFHx", "alpha": 397, "R": 1.1952}
      ]},
      "mark": {"type": "point", "filled": true, "opacity": 1, "size": 100, "strokeWidth": 1.5},
      "encoding": {
        "x": {
          "field": "alpha", "type": "quantitative",
          "scale": {"domain": [-19.9, 417.9], "nice": false, "zero": false},
          "axis": {
            "title": "α[Rg²]", "titleFontStyle": "italic", "format": "d",
            "values": [0, 20, 40, 60, 80, 100, 120, 140, 160, 180, 200, 220, 240, 260, 280, 300, 320, 340, 360, 380, 400],
            "labelExpr": "datum.value % 100 === 0 ? datum.label : ''",
            "tickSize": {"condition": {"test": "datum.value % 100 === 0", "value": -11}, "value": -5},
            "tickWidth": {"condition": {"test": "datum.value % 100 === 0", "value": 4}, "value": 1.2}
          }
        },
        "y": {
          "field": "R", "type": "quantitative",
          "scale": {"domain": [1.0343, 1.2029], "nice": false, "zero": false},
          "axis": {
            "title": "ℛ₂.₀", "format": ".2f",
            "values": [1.04, 1.06, 1.08, 1.10, 1.12, 1.14, 1.16, 1.18, 1.20],
            "labelExpr": "round(datum.value * 100) % 4 === 0 ? datum.label : ''",
            "tickSize": {"condition": {"test": "round(datum.value * 100) % 4 === 0", "value": -11}, "value": -5},
            "tickWidth": {"condition": {"test": "round(datum.value * 100) % 4 === 0", "value": 4}, "value": 1.2}
          }
        },
        "color": {
          "field": "eos", "type": "nominal",
          "scale": {"domain": ["DD2", "FSU2R", "SFHx"], "range": ["#000000", "#0a74e2", "#e7298a"]},
          "legend": {"title": null, "orient": "none", "legendX": 251, "legendY": 275}
        },
        "stroke": {
          "field": "eos", "type": "nominal",
          "scale": {"domain": ["DD2", "FSU2R", "SFHx"], "range": ["#000000", "#0a74e2", "#e7298a"]},
          "legend": null
        },
        "shape": {
          "field": "eos", "type": "nominal",
          "scale": {"domain": ["DD2", "FSU2R", "SFHx"], "range": ["M0.55,0A0.55,0.55,0,1,1,-0.55,0A0.55,0.55,0,1,1,0.55,0Z", "M-1,-0.9L-0.9,-1L1,0.9L0.9,1Z M-1,0.9L0.9,-1L1,-0.9L-0.9,1Z", "M-1,-0.07L1,-0.07L1,0.07L-1,0.07Z M-0.07,-1L0.07,-1L0.07,1L-0.07,1Z"]},
          "legend": {"title": null, "orient": "none", "legendX": 251, "legendY": 275}
        }
      }
    }
  ]
}
